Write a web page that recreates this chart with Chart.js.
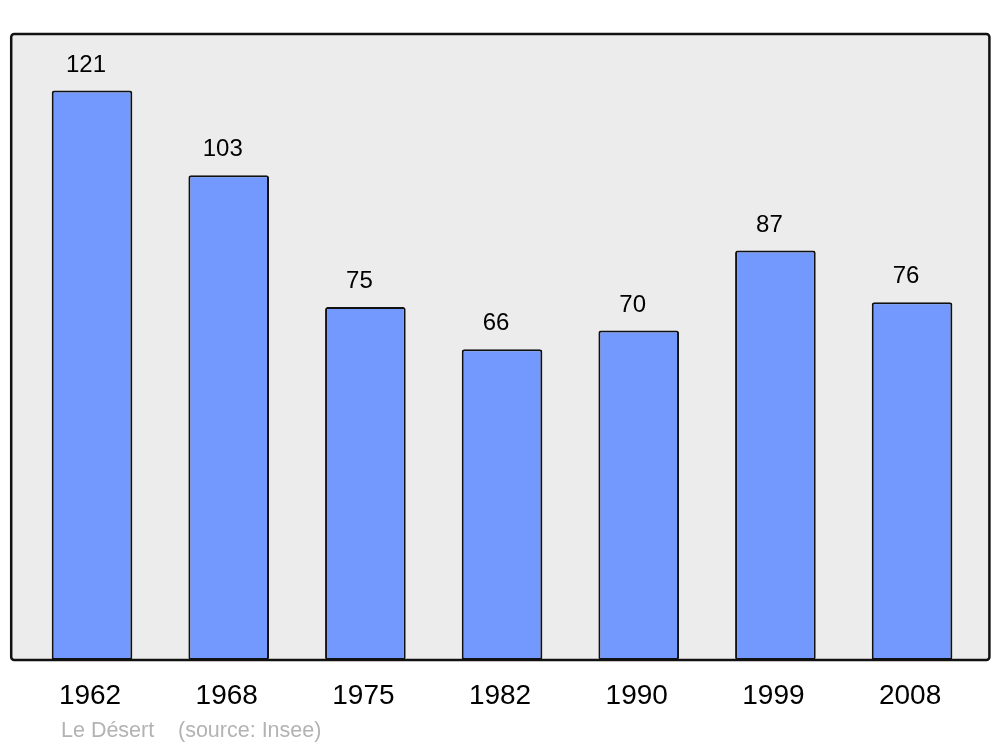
<!DOCTYPE html>
<html><head><meta charset="utf-8">
<script src="https://cdn.jsdelivr.net/npm/chart.js@4"></script>
<style>html,body{margin:0;padding:0;background:#fff;}canvas{display:block;}</style>
</head><body>
<canvas id="c" width="1000" height="747"></canvas>
<script>
const years = ['1962','1968','1975','1982','1990','1999','2008'];
const population = [121, 103, 75, 66, 70, 87, 76];
const placeName = 'Le Désert';
const sourceText = '(source: Insee)';

const FONT = '"Liberation Sans", Arial, sans-serif';

const decor = {
  id: 'decor',
  beforeDraw(chart) {
    const {ctx, chartArea} = chart;
    const l = chartArea.left - 12.5, r = chartArea.right + 9, t = chartArea.top, b = chartArea.bottom;
    ctx.save();
    ctx.beginPath();
    ctx.roundRect(l, t, r - l, b - t, 3);
    ctx.fillStyle = '#ececec';
    ctx.fill();
    ctx.restore();
  },
  afterDatasetsDraw(chart) {
    const {ctx, chartArea} = chart;
    const l = chartArea.left - 12.5, r = chartArea.right + 9, t = chartArea.top, b = chartArea.bottom;
    ctx.save();
    ctx.beginPath();
    ctx.roundRect(l, t, r - l, b - t, 3);
    ctx.lineWidth = 2.5;
    ctx.strokeStyle = '#111';
    ctx.stroke();
    const meta = chart.getDatasetMeta(0);
    ctx.fillStyle = '#000';
    ctx.font = '24px ' + FONT;
    ctx.textAlign = 'center';
    ctx.textBaseline = 'middle';
    meta.data.forEach((bar, i) => {
      ctx.fillText(String(population[i]), bar.x - 6, bar.y - 25.5);
    });
    ctx.font = '28px ' + FONT;
    const xs = chart.scales.x;
    years.forEach((y, i) => {
      ctx.fillText(y, xs.getPixelForValue(i) - 2, 696);
    });
    ctx.font = '21.5px ' + FONT;
    ctx.fillStyle = '#b3b3b3';
    ctx.textAlign = 'left';
    ctx.fillText(placeName, 61, 731);
    ctx.fillText(sourceText, 178, 731);
    ctx.restore();
  }
};

new Chart(document.getElementById('c'), {
  type: 'bar',
  data: {
    labels: years,
    datasets: [{
      data: population,
      backgroundColor: '#7399ff',
      borderColor: '#111',
      borderWidth: 2,
      borderRadius: 2.5,
      borderSkipped: false,
      barPercentage: 0.59,
      categoryPercentage: 1
    }]
  },
  options: {
    responsive: false,
    animation: false,
    events: [],
    layout: { padding: { left: 23.7, right: 19.6, top: 34, bottom: 87 } },
    plugins: { legend: { display: false }, tooltip: { enabled: false } },
    scales: {
      x: { display: false, offset: true },
      y: { display: false, min: 0, max: 133 }
    }
  },
  plugins: [decor]
});
</script>
</body></html>
